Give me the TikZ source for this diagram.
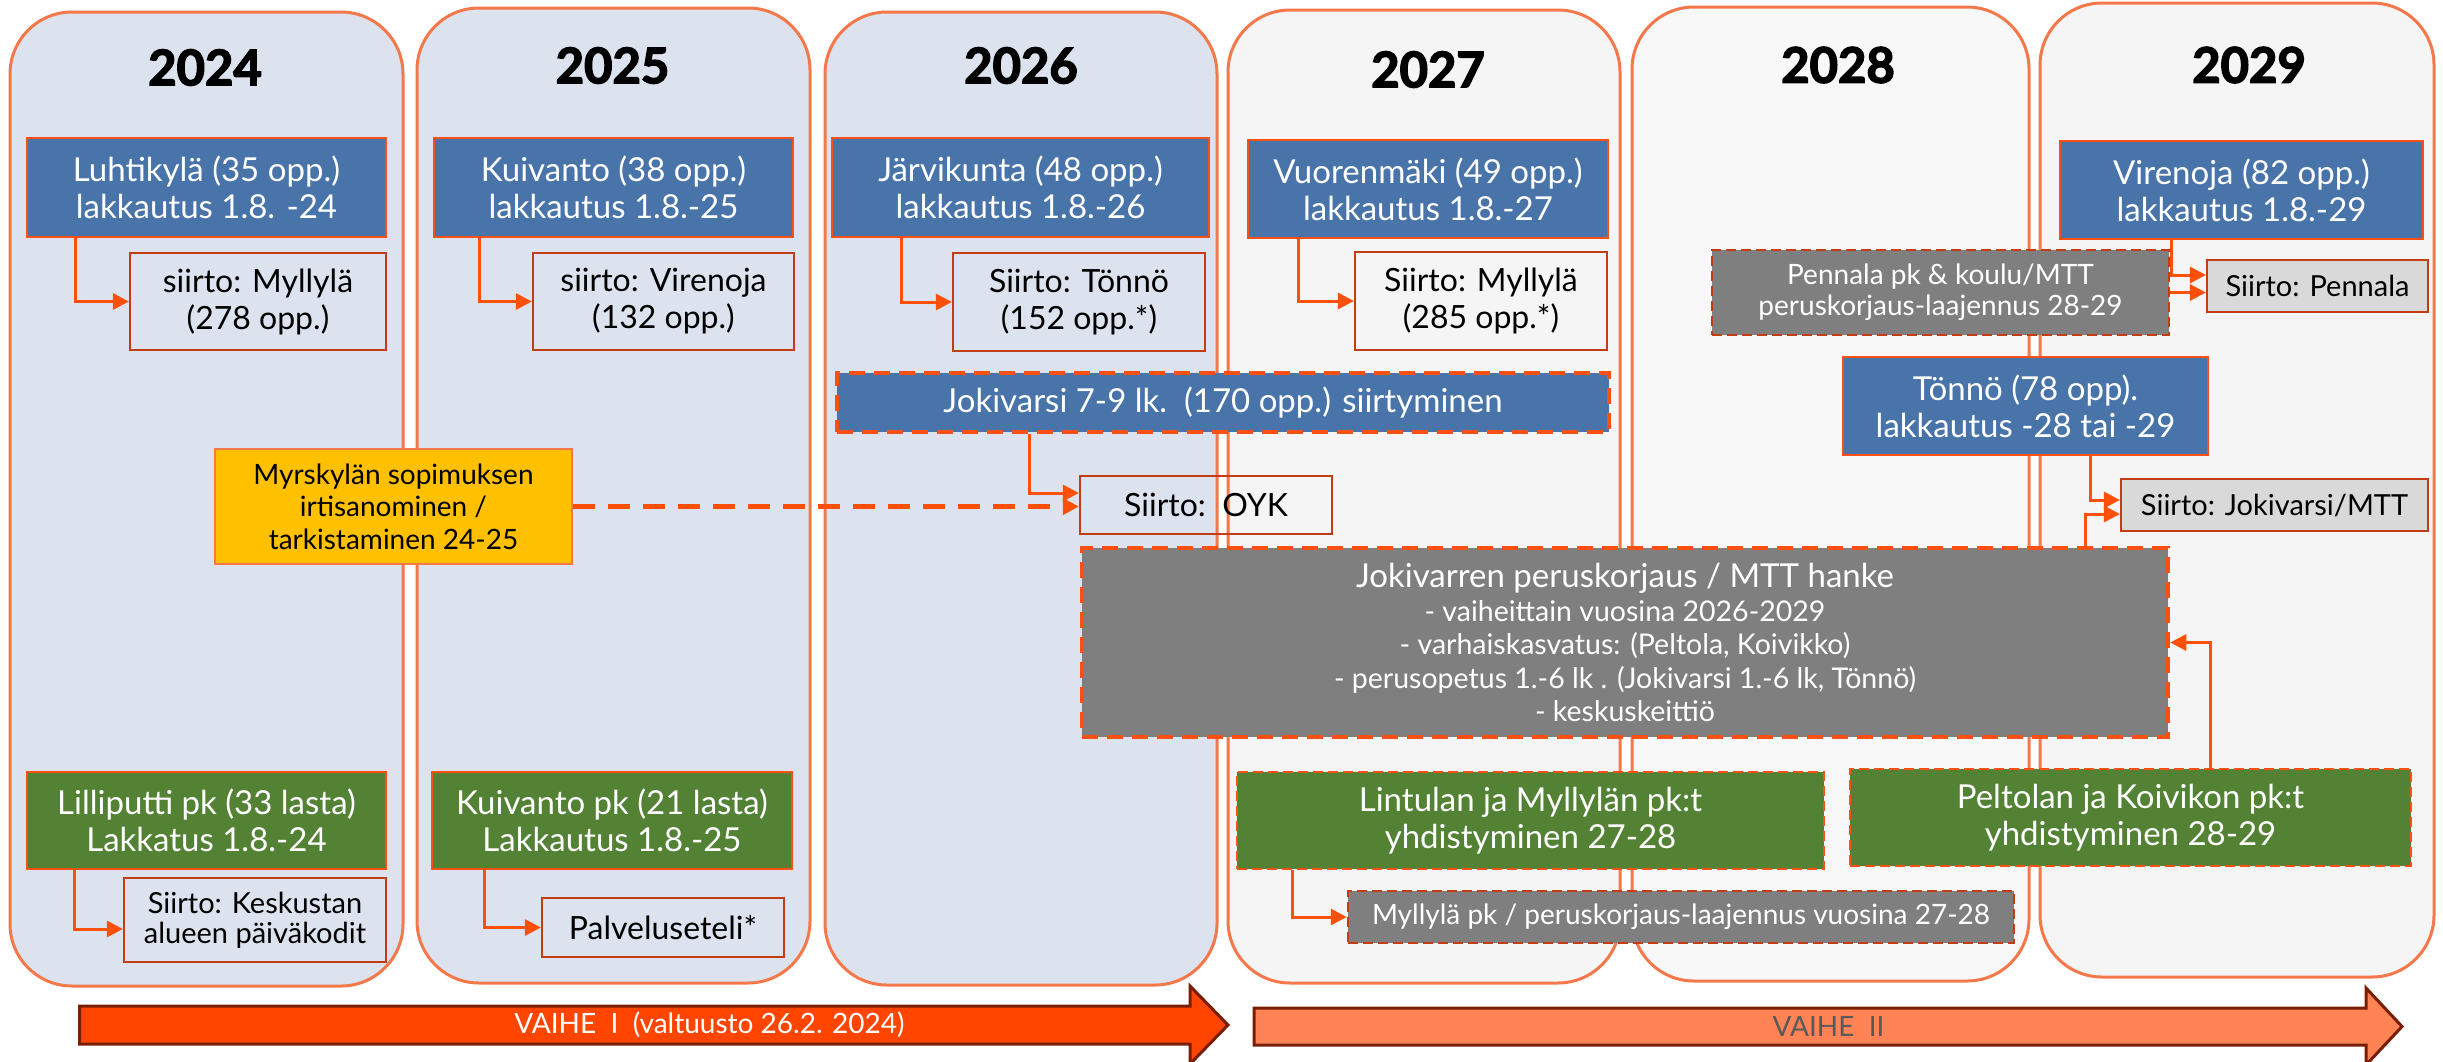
\documentclass[tikz,border=0pt]{standalone}
\usepackage{fontspec}
\setmainfont{Lato}
\newfontfamily\yearfont{Lato}[BoldFeatures={FakeBold=3}]
\usetikzlibrary{arrows.meta,calc}
\definecolor{colB}{RGB}{245,120,75}
\definecolor{cfillA}{RGB}{220,227,238}
\definecolor{cfillB}{RGB}{245,245,245}
\definecolor{cfillC}{RGB}{248,248,248}
\definecolor{cblue}{RGB}{72,116,170}
\definecolor{cgreen}{RGB}{84,130,53}
\definecolor{cgray}{RGB}{127,127,127}
\definecolor{clg}{RGB}{217,217,217}
\definecolor{cyel}{RGB}{255,192,0}
\definecolor{cedge}{RGB}{250,80,20}
\definecolor{cdark}{RGB}{195,60,20}
\definecolor{carrow}{RGB}{255,80,10}
\definecolor{cvone}{RGB}{255,69,0}
\definecolor{cvtwo}{RGB}{255,131,85}
\definecolor{cvedge}{RGB}{120,30,5}
\definecolor{cvtext}{RGB}{89,89,89}
\tikzset{
  col/.style={draw=colB, line width=3pt, rounded corners=62pt},
  base/.style={align=center, inner sep=0pt, font=\fontsize{32}{37}\selectfont},
  bigtext/.style={font=\fontsize{33}{37}\selectfont},
  bluebox/.style={base, bigtext, fill=cblue, draw=cedge, line width=2.5pt, text=white},
  bluedash/.style={base, bigtext, fill=cblue, draw=cedge, line width=4.5pt, dash pattern=on 16pt off 9pt, text=white},
  greenbox/.style={base, bigtext, fill=cgreen, draw=cedge, line width=2.5pt, text=white},
  greendash/.style={greenbox, dash pattern=on 10pt off 5pt},
  siirtobox/.style={base, draw=cdark, line width=2.2pt},
  lgbox/.style={siirtobox, fill=clg, font=\fontsize{29}{34}\selectfont},
  graydash/.style={base, fill=cgray, draw=cdark, line width=2.5pt, dash pattern=on 10pt off 5pt, text=white, font=\fontsize{28}{31}\selectfont},
  bigdash/.style={base, fill=cgray, draw=cedge, line width=4.5pt, dash pattern=on 16pt off 9pt, text=white, font=\fontsize{28.5}{33.5}\selectfont},
  yelbox/.style={base, fill=cyel, draw=colB, line width=2pt, font=\fontsize{28}{32.5}\selectfont},
  conn/.style={draw=carrow, line width=3pt, -{Triangle[length=16pt,width=16pt]}},
  dconn/.style={conn, line width=4.5pt, dash pattern=on 22pt off 13pt},
  yearlbl/.style={inner sep=0pt, font=\yearfont\bfseries\fontsize{49}{55}\selectfont},
  phase/.style={line width=3pt, draw=cvedge, line join=miter},
}
\begin{document}
\begin{tikzpicture}[x=1pt,y=-1pt]
\useasboundingbox (0,0) rectangle (2443,1061);
\fill[white] (0,0) rectangle (2443,1061);
% columns
\draw[col, fill=cfillA] (10,12) rectangle (403,986);
\draw[col, fill=cfillA] (417,8) rectangle (810,983);
\draw[col, fill=cfillA] (825,12) rectangle (1217,985);
\draw[col, fill=cfillB] (1228,10) rectangle (1620,983);
\draw[col, fill=cfillC] (1632,7) rectangle (2029,981);
\draw[col, fill=cfillB] (2040,3) rectangle (2434,977);
% years
\node[yearlbl] (y24) at (205,67.5) {2024};
\node[yearlbl] (y25) at (612.5,65.5) {2025};
\node[yearlbl] (y26) at (1021,65.5) {2026};
\node[yearlbl] (y27) at (1428,69.5) {2027};
\node[yearlbl] (y28) at (1838,65) {2028};
\node[yearlbl] (y29) at (2249,65) {2029};
% blue boxes
\node[bluebox, minimum width=359pt, minimum height=99pt] (luh) at (206.5,187.5) {Luhtikylä (35 opp.)\\lakkautus 1.8. -24};
\node[bluebox, minimum width=359pt, minimum height=99pt] (kui) at (613.5,187.5) {Kuivanto (38 opp.)\\lakkautus 1.8.-25};
\node[bluebox, minimum width=377pt, minimum height=99pt] (jar) at (1020.5,187.5) {Järvikunta (48 opp.)\\lakkautus 1.8.-26};
\node[bluebox, minimum width=360pt, minimum height=98pt] (vuo) at (1428,189) {Vuorenmäki (49 opp.)\\lakkautus 1.8.-27};
\node[bluebox, minimum width=363pt, minimum height=98pt] (vir) at (2241.5,190) {Virenoja (82 opp.)\\lakkautus 1.8.-29};
\node[bluebox, minimum width=365pt, minimum height=98pt] (ton) at (2025.5,406) {Tönnö (78 opp).\\lakkautus -28 tai -29};
\node[bluedash, minimum width=772pt, minimum height=59pt] (jok) at (1223,402.5) {Jokivarsi 7-9 lk.\ \ (170 opp.) siirtyminen};
% transfer boxes
\node[siirtobox, minimum width=256pt, minimum height=97pt] (s1) at (258,301.5) {siirto: Myllylä\\(278 opp.)};
\node[siirtobox, minimum width=261pt, minimum height=97pt] (s2) at (663.5,301.5) {siirto: Virenoja\\(132 opp.)};
\node[siirtobox, minimum width=252pt, minimum height=98pt] (s3) at (1079,302) {Siirto: Tönnö\\(152 opp.*)};
\node[siirtobox, minimum width=252pt, minimum height=98pt] (s4) at (1481,301) {Siirto: Myllylä\\(285 opp.*)};
\node[siirtobox, minimum width=252pt, minimum height=58pt] (oyk) at (1206,505) {Siirto:\ \ OYK};
\node[lgbox, minimum width=221pt, minimum height=52pt] (sp) at (2317.5,286) {Siirto: Pennala};
\node[lgbox, minimum width=307pt, minimum height=52pt] (sj) at (2274.5,505) {Siirto: Jokivarsi/MTT};
\node[siirtobox, minimum width=262pt, minimum height=84pt, font=\fontsize{29}{30}\selectfont] (sk) at (255,920) {Siirto: Keskustan\\alueen päiväkodit};
\node[siirtobox, minimum width=242pt, minimum height=59pt] (pal) at (663,927.5) {Palveluseteli*};
% gray boxes
\node[graydash, minimum width=457pt, minimum height=85pt] (pen) at (1940.5,292.5) {Pennala pk \& koulu/MTT\\peruskorjaus-laajennus 28-29};
\node[bigdash, minimum width=1086pt, minimum height=189pt] (big) at (1625,642.5) {{\fontsize{33}{38}\selectfont Jokivarren peruskorjaus / MTT hanke}\\- vaiheittain vuosina 2026-2029\\- varhaiskasvatus: (Peltola, Koivikko)\\- perusopetus 1.-6 lk . (Jokivarsi 1.-6 lk, Tönnö)\\- keskuskeittiö};
\node[graydash, minimum width=666pt, minimum height=52pt] (mpk) at (1681,917) {Myllylä pk / peruskorjaus-laajennus vuosina 27-28};
% yellow
\node[yelbox, minimum width=357pt, minimum height=115pt] (myr) at (393.5,506.5) {Myrskylän sopimuksen\\irtisanominen /\\tarkistaminen 24-25};
% green boxes
\node[greenbox, minimum width=359pt, minimum height=97pt] (lil) at (206.5,820.5) {Lilliputti pk (33 lasta)\\Lakkatus 1.8.-24};
\node[greenbox, minimum width=360pt, minimum height=97pt] (kpk) at (612,820.5) {Kuivanto pk (21 lasta)\\Lakkautus 1.8.-25};
\node[greendash, minimum width=587pt, minimum height=97pt] (lin) at (1530.5,820.5) {Lintulan ja Myllylän pk:t\\yhdistyminen 27-28};
\node[greendash, minimum width=561pt, minimum height=97pt] (pel) at (2130.5,817.5) {Peltolan ja Koivikon pk:t\\yhdistyminen 28-29};
% connectors
\draw[conn] ($(luh.south west)+(50,0)$) |- (s1.west);
\draw[conn] ($(kui.south west)+(47,0)$) |- (s2.west);
\draw[conn] ($(jar.south west)+(71,0)$) |- (s3.west);
\draw[conn] ($(vuo.south west)+(51.5,0)$) |- (s4.west);
\draw[conn] ($(lil.south west)+(49,0)$) |- ($(sk.west)+(0,9)$);
\draw[conn] ($(kpk.south west)+(53.5,0)$) |- (pal.west);
\draw[conn] ($(jok.south west)+(195,0)$) |- ($(oyk.west)+(0,-12)$);
\draw[dconn] (myr.east) -- (myr.east -| oyk.west);
\draw[conn] ($(vir.south west)+(113,0)$) |- ($(sp.west)+(0,-11)$);
\draw[conn] (pen.east) -- (pen.east -| sp.west);
\draw[conn] ($(ton.south west)+(249,0)$) |- ($(sj.west)+(0,-5)$);
\draw[conn] ($(big.north west)+(1006,0)$) |- ($(sj.west)+(0,9)$);
\draw[conn] ($(pel.north west)+(362,0)$) |- (big.east);
\draw[conn] ($(lin.south west)+(56.6,0)$) |- (mpk.west);
% phase arrows
\draw[phase, fill=cvone] (79.5,1006) -- (1190,1006) -- (1190,986) -- (1228,1025) -- (1190,1064) -- (1190,1044) -- (79.5,1044) -- cycle;
\node[text=white, font=\fontsize{28}{32}\selectfont, inner sep=0pt] (v1) at (709.5,1025) {VAIHE\ \ I\ \ (valtuusto 26.2. 2024)};
\draw[phase, fill=cvtwo] (1254,1008) -- (2366,1008) -- (2366,988) -- (2402,1026.5) -- (2366,1065) -- (2366,1045) -- (1254,1045) -- cycle;
\node[text=cvtext, font=\fontsize{28}{32}\selectfont, inner sep=0pt] (v2) at (1828.5,1026.5) {VAIHE\ \ II};
\end{tikzpicture}
\end{document}
